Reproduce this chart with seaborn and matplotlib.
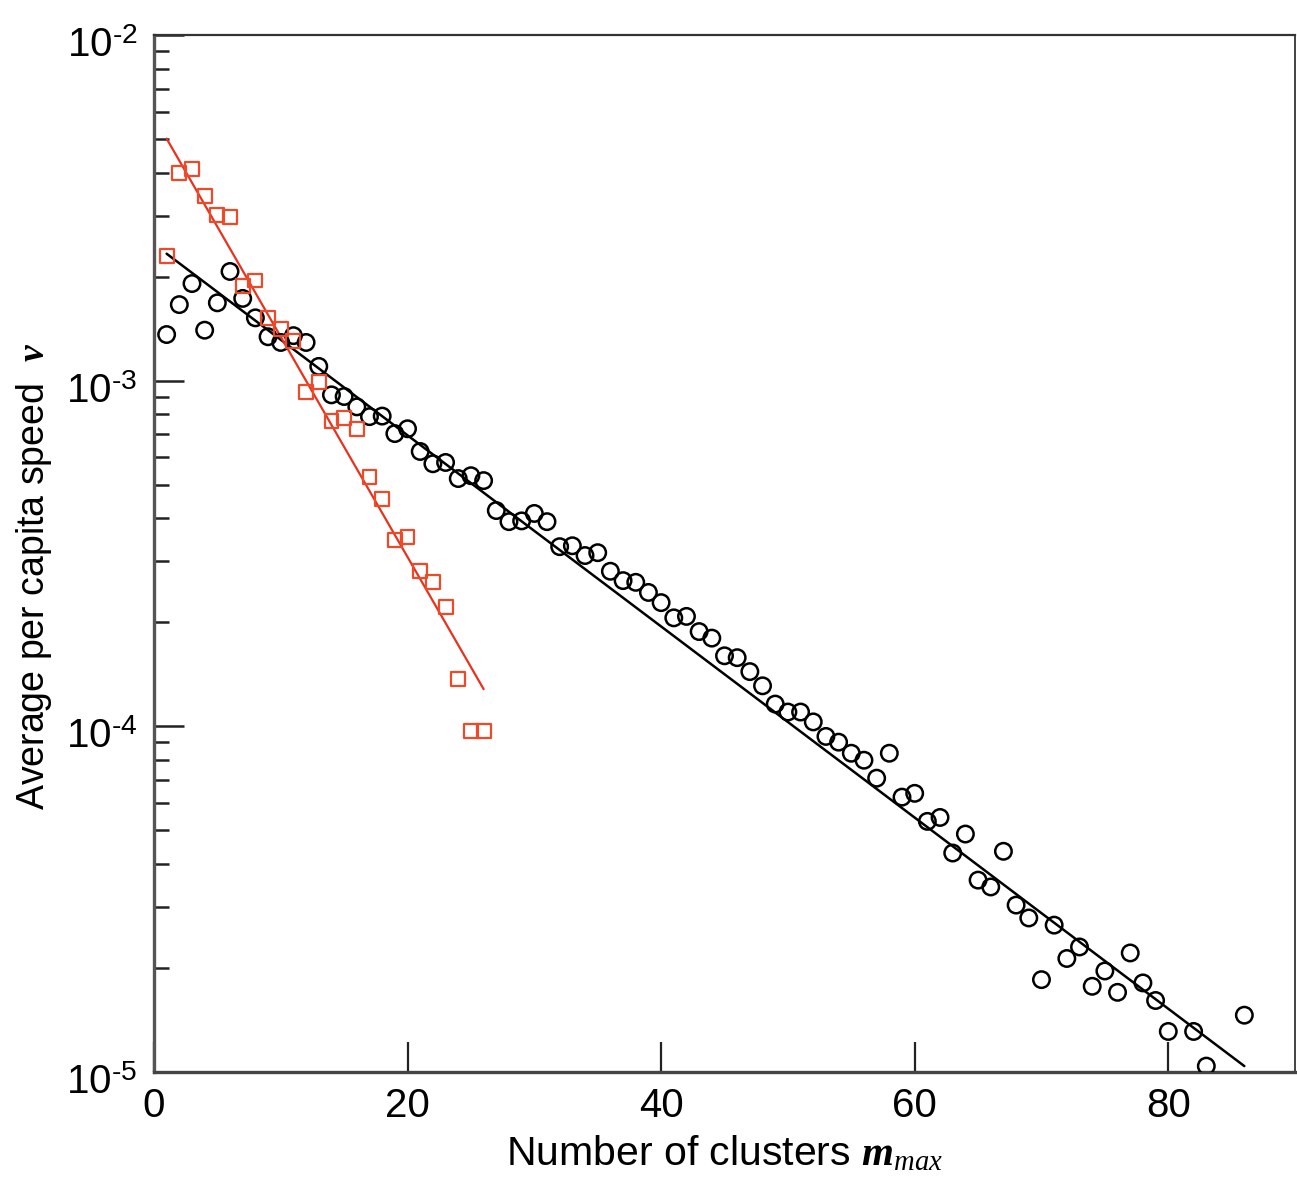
import numpy as np
import pandas as pd
import matplotlib
matplotlib.use("Agg")
import matplotlib.pyplot as plt
import matplotlib.transforms as mtransforms
from matplotlib.ticker import LogLocator, FixedLocator, NullLocator, FuncFormatter
import seaborn as sns

# Average per-capita speed versus number of clusters (two systems)
black_m = list(range(1, 81)) + [82, 83, 86]
black_v = [
    1.36e-3, 1.66e-3, 1.91e-3, 1.40e-3, 1.68e-3, 2.07e-3, 1.73e-3, 1.52e-3, 1.34e-3, 1.29e-3,
    1.35e-3, 1.29e-3, 1.10e-3, 9.10e-4, 9.00e-4, 8.40e-4, 7.87e-4, 7.90e-4, 7.03e-4, 7.26e-4,
    6.24e-4, 5.75e-4, 5.80e-4, 5.21e-4, 5.31e-4, 5.14e-4, 4.21e-4, 3.91e-4, 3.93e-4, 4.13e-4,
    3.91e-4, 3.31e-4, 3.33e-4, 3.12e-4, 3.18e-4, 2.81e-4, 2.64e-4, 2.61e-4, 2.44e-4, 2.28e-4,
    2.06e-4, 2.08e-4, 1.88e-4, 1.80e-4, 1.60e-4, 1.58e-4, 1.44e-4, 1.31e-4, 1.16e-4, 1.10e-4,
    1.10e-4, 1.03e-4, 9.35e-5, 9.00e-5, 8.36e-5, 7.98e-5, 7.08e-5, 8.36e-5, 6.24e-5, 6.40e-5,
    5.31e-5, 5.45e-5, 4.30e-5, 4.88e-5, 3.59e-5, 3.43e-5, 4.35e-5, 3.04e-5, 2.79e-5, 1.85e-5,
    2.66e-5, 2.13e-5, 2.30e-5, 1.77e-5, 1.96e-5, 1.70e-5, 2.21e-5, 1.81e-5, 1.61e-5, 1.31e-5,
    1.31e-5, 1.04e-5, 1.46e-5,
]

red_m = list(range(1, 27))
red_v = [
    2.30e-3, 3.99e-3, 4.10e-3, 3.43e-3, 3.02e-3, 2.98e-3, 1.88e-3, 1.95e-3, 1.52e-3, 1.41e-3,
    1.30e-3, 9.29e-4, 9.93e-4, 7.66e-4, 7.81e-4, 7.26e-4, 5.28e-4, 4.56e-4, 3.47e-4, 3.54e-4,
    2.81e-4, 2.62e-4, 2.21e-4, 1.37e-4, 9.70e-5, 9.70e-5,
]

# Exponential fits: log10(v) = intercept + slope * m, drawn over [m_start, m_end]
black_fit_intercept = -2.605
black_fit_slope = -0.02765
black_fit_range = (1, 86)

red_fit_intercept = -2.236
red_fit_slope = -0.0637
red_fit_range = (1, 26)

x_ticks = [0, 20, 40, 60, 80]
y_ticks = [1e-5, 1e-4, 1e-3, 1e-2]

sns.set_theme(style="ticks")
plt.rcParams["font.family"] = ["Liberation Sans", "DejaVu Sans"]
plt.rcParams["mathtext.fontset"] = "custom"
plt.rcParams["mathtext.rm"] = "Liberation Sans"
plt.rcParams["mathtext.it"] = "Liberation Serif:italic"
plt.rcParams["mathtext.bf"] = "Liberation Serif:bold:italic"
for key in ["text.color", "axes.labelcolor", "xtick.color", "ytick.color"]:
    plt.rcParams[key] = "black"

fig = plt.figure(figsize=(12.97, 11.84), dpi=100)
ax = fig.add_axes([0.1187, 0.0946, 0.8798, 0.8758])

black_df = pd.DataFrame({"m": black_m, "v": black_v})
red_df = pd.DataFrame({"m": red_m, "v": red_v})

def fit_frame(intercept, slope, rng):
    m = np.linspace(rng[0], rng[1], 200)
    return pd.DataFrame({"m": m, "v": 10 ** (intercept + slope * m)})

black_line = fit_frame(black_fit_intercept, black_fit_slope, black_fit_range)
red_line = fit_frame(red_fit_intercept, red_fit_slope, red_fit_range)

sns.lineplot(data=black_line, x="m", y="v", ax=ax, color="black", linewidth=1.8, zorder=2)
sns.lineplot(data=red_line, x="m", y="v", ax=ax, color="#E8321E", linewidth=1.6, zorder=2)

sns.scatterplot(data=black_df, x="m", y="v", ax=ax, marker="o", s=140,
                facecolor="none", edgecolor="black", linewidth=1.8, zorder=3)
sns.scatterplot(data=red_df, x="m", y="v", ax=ax, marker="s", s=100,
                facecolor="none", edgecolor="#EE4A2A", linewidth=1.6, zorder=3)

ax.set_yscale("log")
ax.set_xlim(0, 90)
ax.set_ylim(1e-5, 1e-2)

ax.xaxis.set_major_locator(FixedLocator(x_ticks))
ax.xaxis.set_minor_locator(NullLocator())
ax.yaxis.set_major_locator(FixedLocator(y_ticks))
ax.yaxis.set_minor_locator(LogLocator(base=10, subs=np.arange(2, 10), numticks=10))
ax.yaxis.set_major_formatter(
    FuncFormatter(lambda v, pos: r"$10^{\text{-}%d}$" % round(-np.log10(v)))
)

ax.tick_params(axis="x", which="major", direction="in", length=21.5, width=1.6,
               color="#222222", labelsize=29, pad=11, top=False)
ax.tick_params(axis="y", which="major", direction="in", length=21.5, width=1.8,
               color="#222222", labelsize=29, pad=12, right=False)
ax.tick_params(axis="y", which="minor", direction="in", length=10.5, width=1.8,
               color="#222222", right=False)

for side, lw, col in [("left", 2.4, "#555555"), ("bottom", 2.4, "#444444"),
                      ("top", 1.6, "#333333"), ("right", 1.2, "#222222")]:
    ax.spines[side].set_visible(True)
    ax.spines[side].set_linewidth(lw)
    ax.spines[side].set_color(col)

# the decade labels sit slightly below their ticks
shift = mtransforms.ScaledTranslation(0, -7 / 100, fig.dpi_scale_trans)
for lbl in ax.yaxis.get_majorticklabels():
    lbl.set_transform(lbl.get_transform() + shift)

ax.set_xlabel(r"Number of clusters $\mathbf{m}_{\mathit{max}}$", fontsize=29.5, labelpad=6)
ax.set_ylabel(r"Average per capita speed  $\mathbf{v}$", fontsize=27)
ax.yaxis.set_label_coords(-0.088, 0.478)

fig.savefig("out.png", dpi=100, facecolor="white")
